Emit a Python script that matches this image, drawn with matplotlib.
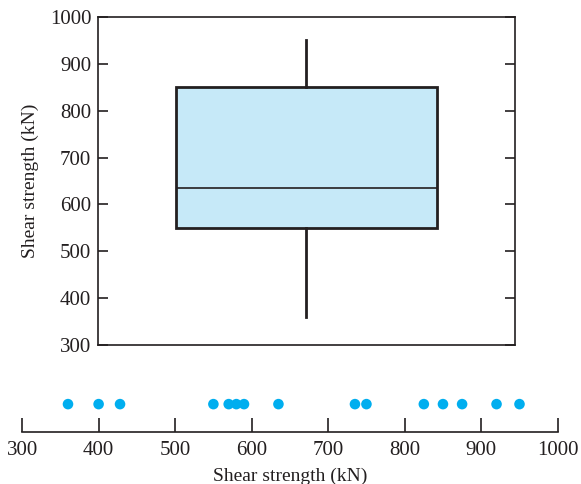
import numpy as np
import matplotlib.pyplot as plt

# shear strength observations (kN)
strength = [360, 400, 428, 550, 570, 580, 590, 635, 735, 750, 825, 850, 875, 920, 950]
ticks = [300, 400, 500, 600, 700, 800, 900, 1000]
label = 'Shear strength (kN)'

ink = '#231f20'
fill = '#c6e9f8'
dot = '#00aeef'

plt.rcParams['font.family'] = ['Liberation Serif', 'DejaVu Serif']
plt.rcParams['font.size'] = 15


def hinges(values):
    v = np.sort(values)
    n = len(v)
    half = n // 2
    lower = v[:half]
    upper = v[n - half:]
    return np.median(lower), np.median(v), np.median(upper)


def main():
    fig = plt.figure(figsize=(5.81, 4.84), dpi=100)

    # box plot
    ax = fig.add_axes([0.169, 0.287, 0.717, 0.678])
    q1, med, q3 = hinges(strength)
    stats = [{'med': med, 'q1': q1, 'q3': q3,
              'whislo': min(strength), 'whishi': max(strength), 'fliers': []}]
    ax.bxp(stats, positions=[1], widths=1.25, patch_artist=True, showcaps=False,
           boxprops=dict(facecolor=fill, edgecolor=ink, linewidth=2),
           whiskerprops=dict(color=ink, linewidth=2),
           medianprops=dict(color=ink, linewidth=1.2))
    ax.set_xlim(0, 2)
    ax.set_ylim(300, 1000)
    ax.set_yticks(ticks)
    ax.set_xticks([])
    ax.tick_params(axis='y', direction='in', left=True, right=True, length=7,
                   width=1.2, color=ink, labelcolor=ink, pad=5)
    for s in ax.spines.values():
        s.set_linewidth(1.2)
        s.set_color(ink)
    ax.set_ylabel(label, color=ink, fontsize=14, labelpad=8)

    # dot plot
    bx = fig.add_axes([0.038, 0.107, 0.922, 0.087])
    bx.scatter(strength, [0.667] * len(strength), s=58, color=dot, zorder=3,
               clip_on=False, edgecolors='none')
    bx.set_xlim(300, 1000)
    bx.set_ylim(0, 1)
    bx.set_xticks(ticks)
    bx.set_yticks([])
    for side in ['top', 'left', 'right']:
        bx.spines[side].set_visible(False)
    bx.spines['bottom'].set_linewidth(1.2)
    bx.spines['bottom'].set_color(ink)
    bx.tick_params(axis='x', direction='in', length=10, width=1.2, color=ink,
                   labelcolor=ink, pad=6)
    bx.patch.set_alpha(0)
    bx.set_xlabel(label, color=ink, fontsize=14, labelpad=6)

    fig.savefig('out.png', dpi=100)


if __name__ == '__main__':
    main()
